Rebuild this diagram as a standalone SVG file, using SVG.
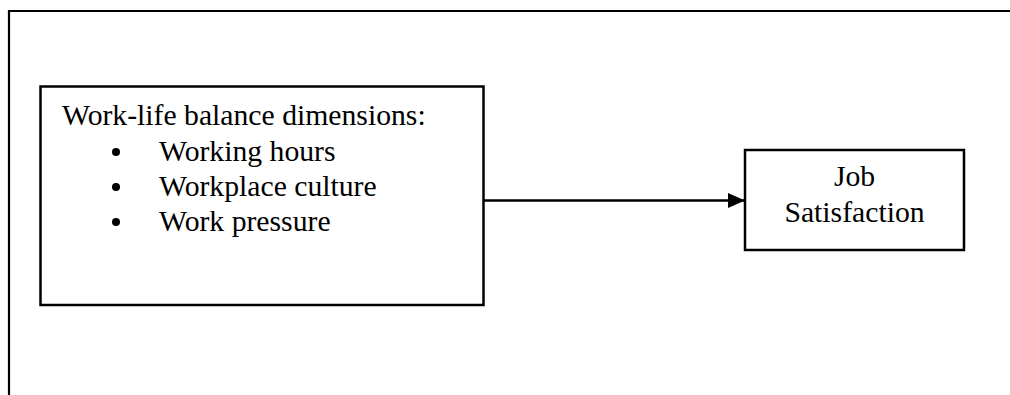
<svg xmlns="http://www.w3.org/2000/svg" width="1010" height="395" viewBox="0 0 1010 395">
<style>
.box{fill:#fff;stroke:#000;stroke-width:2.5}
.frame{fill:none;stroke:#000;stroke-width:2.2}
.t{font-family:"Liberation Serif","Times New Roman",serif;font-size:29.7px;fill:#000}
.conn{stroke:#000;stroke-width:2.5;fill:none}
</style>
<defs>
<marker id="arr" markerWidth="17" markerHeight="15" refX="17" refY="7.5" orient="auto" markerUnits="userSpaceOnUse">
<polygon points="0,0 17,7.5 0,15" fill="#000"/>
</marker>
</defs>
<rect width="1010" height="395" fill="#fff"/>
<path class="frame" d="M9,395 V11 H1010"/>
<g id="connectors">
<line class="conn" x1="484" y1="200.5" x2="745" y2="200.5" marker-end="url(#arr)"/>
</g>
<g id="node-wlb">
<rect class="box" x="40.5" y="86.5" width="443" height="218.5"/>
<text class="t" x="62" y="125">Work-life balance dimensions:</text>
<circle cx="116" cy="152" r="4"/>
<circle cx="116" cy="187" r="4"/>
<circle cx="116" cy="222" r="4"/>
<text class="t" x="159" y="161">Working hours</text>
<text class="t" x="159" y="196">Workplace culture</text>
<text class="t" x="159" y="231">Work pressure</text>
</g>
<g id="node-js">
<rect class="box" x="745" y="150" width="219" height="100"/>
<text class="t" x="854.5" y="186" text-anchor="middle">Job</text>
<text class="t" x="854.5" y="221.5" text-anchor="middle">Satisfaction</text>
</g>
</svg>
